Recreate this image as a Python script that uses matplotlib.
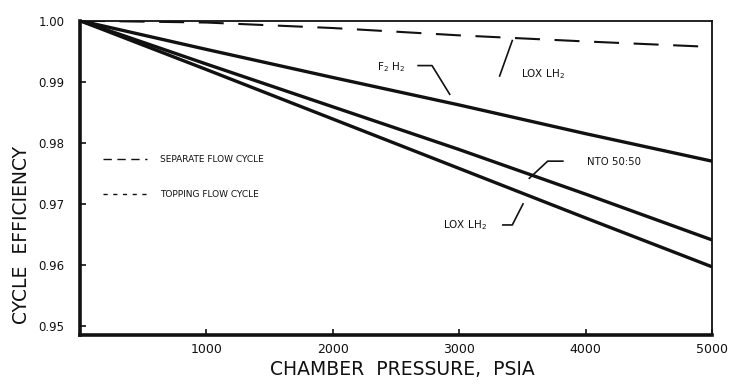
import numpy as np
import matplotlib
matplotlib.use("Agg")
import matplotlib.pyplot as plt

plt.rcParams['font.family'] = ['DejaVu Sans']

# chamber pressure, psia
pressure = [0, 1000, 2000, 3000, 4000, 5000]

# cycle efficiency
f2h2 = [1.0, 0.9953, 0.9907, 0.9862, 0.9815, 0.9770]
nto_5050 = [1.0, 0.9929, 0.9859, 0.9789, 0.9716, 0.9641]
lox_lh2 = [1.0, 0.9920, 0.9839, 0.9758, 0.9677, 0.9597]
lox_lh2_topping = [1.0, 0.9997, 0.9988, 0.9976, 0.9966, 0.9957]

x_ticks = [1000, 2000, 3000, 4000, 5000]
y_ticks = [0.95, 0.96, 0.97, 0.98, 0.99, 1.00]
y_tick_labels = ["0.95", "0.96", "0.97", "0.98", "0.99", "1.00"]

ink = "#111111"

fig = plt.figure(figsize=(7.42, 3.90), dpi=100)
ax = fig.add_axes([80 / 742, 1 - 335 / 390, 632 / 742, (335 - 20.7) / 390])

ax.plot(pressure, f2h2, color=ink, lw=2.4, solid_capstyle="round")
ax.plot(pressure, nto_5050, color=ink, lw=2.4, solid_capstyle="round")
ax.plot(pressure, lox_lh2, color=ink, lw=2.4, solid_capstyle="round")
ax.plot(pressure, lox_lh2_topping, color=ink, lw=1.5, dashes=(12, 7))

ax.set_xlim(0, 5000)
ax.set_ylim(0.94853, 1.0)
ax.set_xticks(x_ticks)
ax.set_xticklabels([str(t) for t in x_ticks], fontsize=9, color=ink)
ax.set_yticks(y_ticks)
ax.set_yticklabels(y_tick_labels, fontsize=8.5, color=ink)
ax.tick_params(direction="in", length=4, width=1.2, colors=ink)
ax.tick_params(axis="x", pad=6)
ax.tick_params(axis="y", pad=11)

for side in ["left", "bottom"]:
    ax.spines[side].set_linewidth(2.6)
for side in ["top", "right"]:
    ax.spines[side].set_linewidth(1.3)
for s in ax.spines.values():
    s.set_color(ink)

ax.set_xlabel("CHAMBER  PRESSURE,  PSIA", fontsize=13.5, color=ink, va="center")
ax.xaxis.set_label_coords(0.51, -0.111)
ax.set_ylabel("CYCLE  EFFICIENCY", fontsize=13.5, color=ink, va="center")
ax.yaxis.set_label_coords(-0.092, 0.318)

# legend-like keys drawn as text and short dashed segments
ax.plot([182, 530], [0.9773, 0.9773], color=ink, lw=1.0, dashes=(6, 4))
ax.text(633, 0.9773, "SEPARATE FLOW CYCLE", fontsize=6.5, va="center", color=ink)
ax.plot([182, 530], [0.9716, 0.9716], color=ink, lw=1.0, dashes=(3, 4))
ax.text(633, 0.9716, "TOPPING FLOW CYCLE", fontsize=6.5, va="center", color=ink)

# curve labels with leader lines
ax.text(2350, 0.99235, "F$_2$ H$_2$", fontsize=7.5, va="center", ha="left", color=ink)
ax.plot([2675, 2785, 2925], [0.99265, 0.99265, 0.98795], color=ink, lw=1.2)

ax.text(3490, 0.99125, "LOX LH$_2$", fontsize=7.5, va="center", ha="left", color=ink)
ax.plot([3320, 3420], [0.99095, 0.99675], color=ink, lw=1.2)

ax.text(4010, 0.97690, "NTO 50:50", fontsize=7.3, va="center", ha="left", color=ink)
ax.plot([3555, 3700, 3820], [0.97420, 0.97700, 0.97700], color=ink, lw=1.2)

ax.text(2870, 0.96655, "LOX LH$_2$", fontsize=7.5, va="center", ha="left", color=ink)
ax.plot([3345, 3420, 3505], [0.96655, 0.96655, 0.97000], color=ink, lw=1.2)

fig.savefig("out.png", dpi=100, facecolor="white")
